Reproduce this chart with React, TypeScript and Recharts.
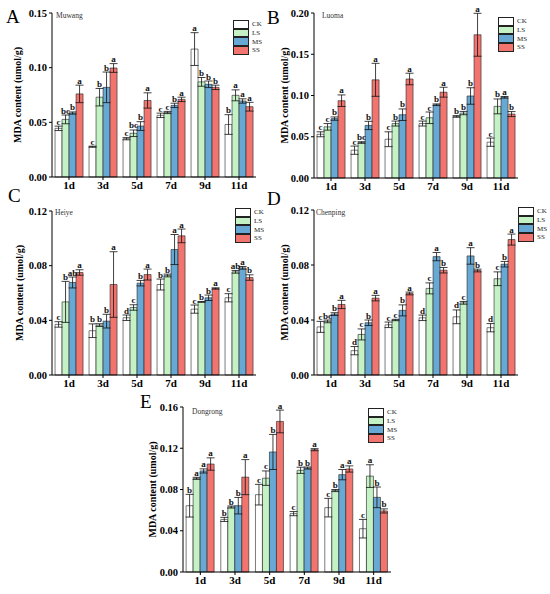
import React from 'react';
import { BarChart, Bar, XAxis, YAxis, ErrorBar, LabelList, Legend } from 'recharts';

const DAYS = ['1d', '3d', '5d', '7d', '9d', '11d'];
const TREATMENTS = ['CK', 'LS', 'MS', 'SS'];
const FILLS = ['#ffffff', '#c4f2c4', '#68a8d4', '#f2746e'];
const SERIF = '"Liberation Serif", "Times New Roman", serif';

// rows: CK, LS, MS, SS ; columns: 1d..11d
const muwangMean = [
  [0.0445, 0.0277, 0.035, 0.0564, 0.117, 0.048],
  [0.0527, 0.073, 0.04, 0.059, 0.087, 0.0747],
  [0.0585, 0.082, 0.0466, 0.0655, 0.0848, 0.0695],
  [0.076, 0.0997, 0.07, 0.071, 0.082, 0.0643],
];
const muwangErr = [
  [0.002, 0.0005, 0.001, 0.002, 0.015, 0.009],
  [0.004, 0.008, 0.003, 0.001, 0.004, 0.005],
  [0.001, 0.014, 0.004, 0.002, 0.003, 0.002],
  [0.008, 0.004, 0.007, 0.002, 0.002, 0.004],
];
const muwangSig = [
  ['c', 'c', 'c', 'c', 'a', 'b'],
  ['bc', 'b', 'bc', 'c', 'b', 'a'],
  ['b', 'b', 'b', 'b', 'b', 'a'],
  ['a', 'a', 'a', 'a', 'b', 'a'],
];

const luomaMean = [
  [0.053, 0.0337, 0.047, 0.066, 0.0746, 0.0434],
  [0.062, 0.043, 0.066, 0.073, 0.0787, 0.0868],
  [0.072, 0.0637, 0.0767, 0.0888, 0.0994, 0.0978],
  [0.0937, 0.119, 0.12, 0.104, 0.1736, 0.0775],
];
const luomaErr = [
  [0.003, 0.005, 0.009, 0.003, 0.001, 0.005],
  [0.004, 0.001, 0.003, 0.007, 0.002, 0.009],
  [0.002, 0.005, 0.007, 0.001, 0.01, 0.001],
  [0.007, 0.02, 0.007, 0.006, 0.026, 0.003],
];
const luomaSig = [
  ['c', 'c', 'c', 'c', 'b', 'c'],
  ['c', 'bc', 'b', 'c', 'b', 'b'],
  ['b', 'b', 'b', 'b', 'b', 'a'],
  ['a', 'a', 'a', 'a', 'a', 'b'],
];

const heiyeMean = [
  [0.037, 0.0324, 0.0419, 0.0662, 0.0482, 0.0565],
  [0.0535, 0.0365, 0.0494, 0.0728, 0.0535, 0.0755],
  [0.0677, 0.0394, 0.0672, 0.0918, 0.0565, 0.0784],
  [0.075, 0.0662, 0.0735, 0.1018, 0.0633, 0.0713],
];
const heiyeErr = [
  [0.002, 0.005, 0.002, 0.004, 0.003, 0.003],
  [0.015, 0.001, 0.002, 0.001, 0.0003, 0.001],
  [0.004, 0.005, 0.002, 0.011, 0.002, 0.001],
  [0.002, 0.024, 0.004, 0.005, 0.0005, 0.002],
];
const heiyeSig = [
  ['c', 'b', 'd', 'b', 'c', 'c'],
  ['b', 'b', 'c', 'b', 'b', 'ab'],
  ['ab', 'b', 'b', 'a', 'b', 'a'],
  ['a', 'a', 'a', 'a', 'a', 'b'],
];

const chenpingMean = [
  [0.035, 0.0177, 0.0365, 0.0416, 0.0423, 0.0344],
  [0.039, 0.0295, 0.04, 0.063, 0.0525, 0.07],
  [0.0443, 0.038, 0.047, 0.0861, 0.0866, 0.0806],
  [0.0513, 0.0559, 0.0593, 0.0762, 0.076, 0.0985],
];
const chenpingErr = [
  [0.004, 0.003, 0.002, 0.002, 0.005, 0.003],
  [0.001, 0.004, 0.0005, 0.004, 0.001, 0.005],
  [0.001, 0.002, 0.004, 0.003, 0.006, 0.002],
  [0.003, 0.002, 0.001, 0.002, 0.001, 0.004],
];
const chenpingSig = [
  ['c', 'd', 'c', 'd', 'd', 'd'],
  ['bc', 'c', 'c', 'c', 'c', 'c'],
  ['b', 'b', 'b', 'a', 'a', 'b'],
  ['a', 'a', 'a', 'b', 'b', 'a'],
];

const dongrongMean = [
  [0.0643, 0.051, 0.075, 0.0566, 0.0624, 0.042],
  [0.0908, 0.063, 0.091, 0.0986, 0.079, 0.093],
  [0.098, 0.0643, 0.1164, 0.1008, 0.0944, 0.0724],
  [0.1047, 0.092, 0.146, 0.1186, 0.0999, 0.0592],
];
const dongrongErr = [
  [0.011, 0.002, 0.01, 0.002, 0.009, 0.009],
  [0.001, 0.001, 0.007, 0.003, 0.001, 0.011],
  [0.002, 0.008, 0.017, 0.001, 0.005, 0.01],
  [0.006, 0.017, 0.011, 0.001, 0.003, 0.002],
];
const dongrongSig = [
  ['b', 'b', 'c', 'c', 'c', 'c'],
  ['a', 'b', 'c', 'b', 'b', 'a'],
  ['a', 'b', 'b', 'b', 'a', 'b'],
  ['a', 'a', 'a', 'a', 'a', 'b'],
];

const ticks15 = [0, 0.05, 0.1, 0.15];
const ticks20 = [0, 0.05, 0.1, 0.15, 0.2];
const ticks12 = [0, 0.04, 0.08, 0.12];
const ticks16 = [0, 0.04, 0.08, 0.12, 0.16];

function buildRows(means: number[][], errs: number[][], sigs: string[][]) {
  return DAYS.map((day, i) => {
    const row: any = { day };
    TREATMENTS.forEach((t, k) => {
      row[t] = means[k][i];
      row[t + '_e'] = errs[k][i];
      row[t + '_s'] = sigs[k][i];
    });
    return row;
  });
}

// page coordinates of each plot area
const PANELS = [
  { letter: 'A', name: 'Muwang', rows: buildRows(muwangMean, muwangErr, muwangSig), ticks: ticks15,
    L: 52, R: 256, T: 13, B: 177, letterX: 6, letterY: 23, nameX: 56, nameY: 18, titleX: 17, legX: 233, legY: 20 },
  { letter: 'B', name: 'Luoma', rows: buildRows(luomaMean, luomaErr, luomaSig), ticks: ticks20,
    L: 314, R: 518, T: 13, B: 178, letterX: 267, letterY: 24, nameX: 322, nameY: 18, titleX: 284, legX: 498, legY: 17 },
  { letter: 'C', name: 'Heiye', rows: buildRows(heiyeMean, heiyeErr, heiyeSig), ticks: ticks12,
    L: 52, R: 256, T: 211, B: 375, letterX: 8, letterY: 202, nameX: 55, nameY: 215, titleX: 19, legX: 235, legY: 208 },
  { letter: 'D', name: 'Chenping', rows: buildRows(chenpingMean, chenpingErr, chenpingSig), ticks: ticks12,
    L: 314, R: 518, T: 210, B: 375, letterX: 267, letterY: 205, nameX: 316, nameY: 215, titleX: 284, legX: 518, legY: 207 },
  { letter: 'E', name: 'Dongrong', rows: buildRows(dongrongMean, dongrongErr, dongrongSig), ticks: ticks16,
    L: 183, R: 391, T: 407, B: 572, letterX: 140, letterY: 408, nameX: 192, nameY: 414, titleX: 152, legX: 368, legY: 408 },
];

const Y_AXIS_W = 40;
const X_AXIS_H = 16;

function LegendBlock() {
  return (
    <div style={{ fontFamily: SERIF, fontSize: 7, color: '#222' }}>
      {TREATMENTS.map((t, k) => (
        <div key={t} style={{ display: 'flex', alignItems: 'center', height: 8.7 }}>
          <span style={{ display: 'inline-block', width: 16, height: 8.7, background: FILLS[k],
            border: '0.8px solid #222', boxSizing: 'border-box' }} />
          <span style={{ marginLeft: 3, lineHeight: '8px' }}>{t}</span>
        </div>
      ))}
    </div>
  );
}

const sigLabel = (rows: any[], t: string) => (props: any) => {
  const { x, y, width, height, index, value } = props;
  const row = rows[index];
  const px = row[t] ? Number(height) / row[t] : 0;
  const top = Number(y) - row[t + '_e'] * px;
  return (
    <text x={Number(x) + Number(width) / 2} y={top - 1.5} textAnchor="middle"
      fontFamily={SERIF} fontWeight="bold" fontSize={9} fill="#111">{value}</text>
  );
};

function Panel({ p }: { p: any }) {
  const left = p.L - Y_AXIS_W;
  const top = p.T - 8;
  const width = p.R - left + 4;
  const height = p.B - top + X_AXIS_H + 4;
  const max = p.ticks[p.ticks.length - 1];
  return (
    <div style={{ position: 'absolute', left, top }}>
      <BarChart width={width} height={height} data={p.rows}
        margin={{ top: 8, right: 4, left: 0, bottom: 4 }}
        barCategoryGap="9%" barGap={0}>
        <XAxis dataKey="day" height={X_AXIS_H} tickSize={3} tickMargin={1}
          axisLine={{ stroke: '#000' }} tickLine={{ stroke: '#000' }}
          tick={{ fontFamily: SERIF, fontWeight: 'bold', fontSize: 11, fill: '#000' }} />
        <YAxis width={Y_AXIS_W} domain={[0, max]} ticks={p.ticks} tickSize={3} tickMargin={2}
          tickFormatter={(v: number) => v.toFixed(2)} interval={0}
          axisLine={{ stroke: '#000' }} tickLine={{ stroke: '#000' }}
          tick={{ fontFamily: SERIF, fontWeight: 'bold', fontSize: 10.5, fill: '#000' }} />
        <Legend verticalAlign="middle" layout="horizontal" content={() => <LegendBlock />}
          wrapperStyle={{ left: p.legX - left, top: p.legY - top, width: 40, height: 36 }} />
        {TREATMENTS.map((t, k) => (
          <Bar key={t} dataKey={t} fill={FILLS[k]} stroke="#222" strokeWidth={0.6}
            isAnimationActive={false}>
            <ErrorBar dataKey={t + '_e'} width={4} stroke="#111" strokeWidth={0.8} />
            <LabelList dataKey={t + '_s'} content={sigLabel(p.rows, t)} />
          </Bar>
        ))}
      </BarChart>
    </div>
  );
}

export default function App() {
  return (
    <div style={{ position: 'absolute', left: 0, top: 0, width: 550, height: 594, background: '#fff' }}>
      {PANELS.map(p => <Panel key={p.letter} p={p} />)}
      <svg width={550} height={594} style={{ position: 'absolute', left: 0, top: 0, pointerEvents: 'none' }}>
        {PANELS.map(p => {
          const midY = (p.T + p.B) / 2;
          return (
            <g key={p.letter}>
              <text x={p.letterX} y={p.letterY} fontFamily={SERIF} fontSize={19} fill="#000">{p.letter}</text>
              <text x={p.nameX} y={p.nameY} fontFamily={SERIF} fontSize={7.5} fill="#333">{p.name}</text>
              <text x={p.titleX} y={midY} transform={`rotate(-90, ${p.titleX}, ${midY})`}
                textAnchor="middle" dominantBaseline="central" fontFamily={SERIF}
                fontWeight="bold" fontSize={10} fill="#000">MDA content (umol/g)</text>
            </g>
          );
        })}
      </svg>
    </div>
  );
}
